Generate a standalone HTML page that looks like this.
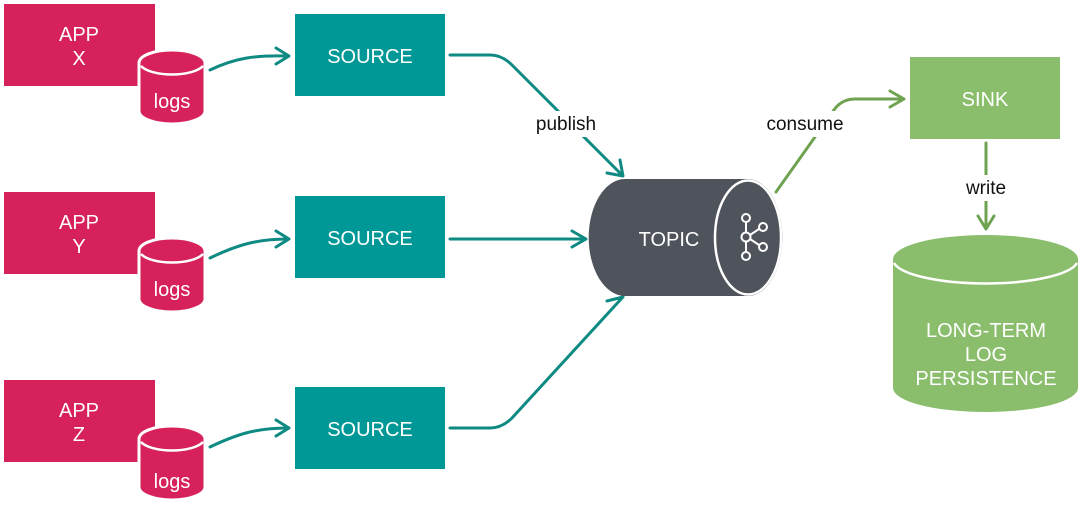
<!DOCTYPE html>
<html><head><meta charset="utf-8"><style>
html,body{margin:0;padding:0;background:#fff;}
svg{display:block;}
text{font-family:"Liberation Sans",Arial,sans-serif;}
</style></head><body>
<svg width="1080" height="506" viewBox="0 0 1080 506" xmlns="http://www.w3.org/2000/svg">
<defs>
<g id="logs">
  <path d="M139,63 V111 A33,13 0 0 0 205,111 V63 A33,13 0 0 0 139,63 Z" fill="#D6215A" stroke="#fff" stroke-width="3"/>
  <path d="M141,66 A33,13 0 0 0 203,66" fill="none" stroke="#fff" stroke-width="2.5"/>
</g>
</defs>
<!-- App rows -->
<g>
  <rect x="4" y="4" width="151" height="82" fill="#D6215A"/>
  <text x="79" y="41" fill="#fff" font-size="20" text-anchor="middle">APP</text>
  <text x="79" y="65" fill="#fff" font-size="20" text-anchor="middle">X</text>
  <use href="#logs"/>
  <text x="172" y="108" fill="#fff" font-size="20" text-anchor="middle">logs</text>
  <rect x="295" y="14" width="150" height="82" fill="#009896"/>
  <text x="370" y="63" fill="#fff" font-size="20" text-anchor="middle">SOURCE</text>
</g>
<g transform="translate(0,188)">
  <rect x="4" y="4" width="151" height="82" fill="#D6215A"/>
  <text x="79" y="41" fill="#fff" font-size="20" text-anchor="middle">APP</text>
  <text x="79" y="65" fill="#fff" font-size="20" text-anchor="middle">Y</text>
  <use href="#logs"/>
  <text x="172" y="108" fill="#fff" font-size="20" text-anchor="middle">logs</text>
  <rect x="295" y="8" width="150" height="82" fill="#009896"/>
  <text x="370" y="57" fill="#fff" font-size="20" text-anchor="middle">SOURCE</text>
</g>
<g transform="translate(0,376)">
  <rect x="4" y="4" width="151" height="82" fill="#D6215A"/>
  <text x="79" y="41" fill="#fff" font-size="20" text-anchor="middle">APP</text>
  <text x="79" y="65" fill="#fff" font-size="20" text-anchor="middle">Z</text>
  <use href="#logs"/>
  <text x="172" y="112" fill="#fff" font-size="20" text-anchor="middle">logs</text>
  <rect x="295" y="11" width="150" height="82" fill="#009896"/>
  <text x="370" y="60" fill="#fff" font-size="20" text-anchor="middle">SOURCE</text>
</g>
<!-- teal arrows -->
<g fill="none" stroke="#0E8A82" stroke-width="3" stroke-linecap="round" stroke-linejoin="round">
  <path d="M210,70 C235,58 255,55 288,56"/><path d="M276,48 L289,56 L276,64"/>
  <path d="M210,258 C235,246 255,239 288,239"/><path d="M276,231 L289,239 L276,247"/>
  <path d="M210,447 C235,435 255,428 288,428"/><path d="M276,420 L289,428 L276,436"/>
  <path d="M450,55 H490 Q502,55 512,65 L622,175"/><path d="M607,173 L623,176 L620,160"/>
  <path d="M450,239 H585"/><path d="M572,231 L586,239 L572,247"/>
  <path d="M450,428 H490 Q502,428 512,418 L622,298"/><path d="M607,301 L623,297 L620,282"/>
</g>
<rect x="528" y="111" width="76" height="26" fill="#fff"/>
<text x="566" y="130" font-size="19" text-anchor="middle" fill="#111">publish</text>
<!-- topic -->
<path d="M625,179 H748 A34,58 0 0 1 748,296 H625 A36,58 0 0 1 625,179 Z" fill="#4F535C"/>
<ellipse cx="748" cy="237.5" rx="33" ry="57" fill="none" stroke="#fff" stroke-width="2.5"/>
<text x="669" y="246" fill="#fff" font-size="20" text-anchor="middle">TOPIC</text>
<g fill="none" stroke="#fff" stroke-width="2">
  <circle cx="746" cy="218" r="4"/>
  <circle cx="746" cy="237" r="4.5"/>
  <circle cx="746" cy="256" r="4"/>
  <circle cx="763" cy="227" r="4"/>
  <circle cx="763" cy="247" r="4"/>
  <path d="M746,222 V232.5 M746,241.5 V252 M750,235 L759,229 M750,239 L759,245"/>
</g>
<!-- green -->
<g fill="none" stroke="#6FA352" stroke-width="3" stroke-linecap="round" stroke-linejoin="round">
  <path d="M776,192 L832,113 Q840,99 855,99 H902"/><path d="M890,91 L904,99 L890,107"/>
  <path d="M986,143 V228"/><path d="M978,216 L986,229 L994,216"/>
</g>
<rect x="760" y="111" width="90" height="26" fill="#fff"/>
<text x="805" y="130" font-size="19" text-anchor="middle" fill="#111">consume</text>
<rect x="955" y="175" width="62" height="26" fill="#fff"/>
<text x="986" y="194" font-size="19" text-anchor="middle" fill="#111">write</text>
<rect x="910" y="57" width="150" height="82" fill="#8BBE6C"/>
<text x="985" y="106" fill="#fff" font-size="20" text-anchor="middle">SINK</text>
<path d="M893,259 V388 A92.5,24 0 0 0 1078,388 V259 Z" fill="#8BBE6C"/>
<ellipse cx="985.5" cy="259" rx="92.5" ry="24" fill="#8BBE6C"/>
<path d="M894,263 A92.5,24 0 0 0 1077,263" fill="none" stroke="#fff" stroke-width="2.5"/>
<text x="986" y="337" fill="#fff" font-size="20" text-anchor="middle">LONG-TERM</text>
<text x="986" y="361" fill="#fff" font-size="20" text-anchor="middle">LOG</text>
<text x="986" y="385" fill="#fff" font-size="20" text-anchor="middle">PERSISTENCE</text>
</svg>
</body></html>
